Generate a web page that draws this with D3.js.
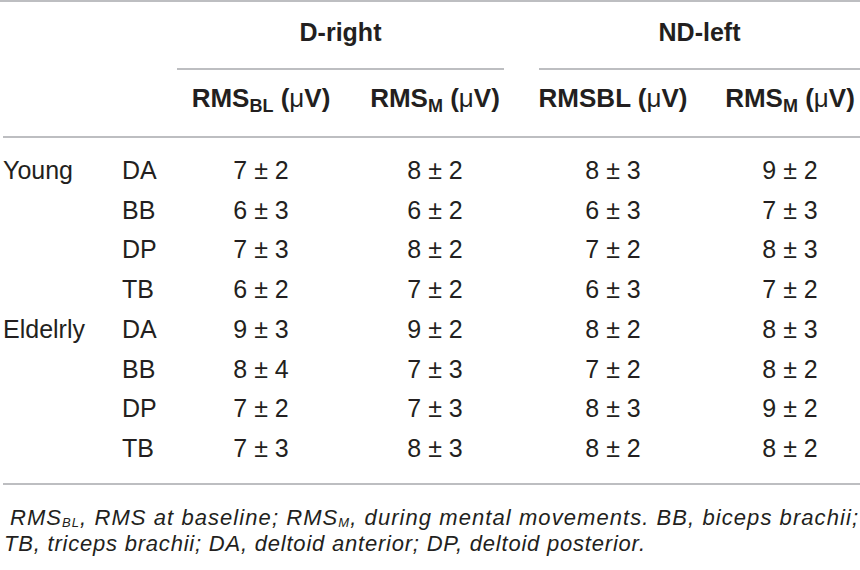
<!DOCTYPE html>
<html lang="en">
<head>
    <meta charset="UTF-8">
    <title>RMS table</title>
    <script src="https://d3js.org/d3.v7.min.js"></script>
    <style type="text/css">
        body {
            margin: 0;
            background-color: #ffffff;
        }

        text {
            font-family: "Liberation Sans", Arial, sans-serif;
            fill: #231f20;
        }

        .rule {
            stroke: #a7a9ac;
            stroke-width: 1.6px;
        }

        .span-title {
            font-size: 25px;
            font-weight: bold;
            text-anchor: middle;
        }

        .col-head {
            font-size: 26px;
            font-weight: bold;
            text-anchor: middle;
        }

        .cell {
            font-size: 25px;
        }

        .note {
            font-size: 22px;
            font-style: italic;
        }
    </style>
</head>
<body>
    <script type="text/javascript">
        //CONSTANTS & GLOBALS
        const width = 860;
        const height = 570;

        //DATA
        const groups = ["Young", "Eldelrly"];
        const muscles = ["DA", "BB", "DP", "TB"];
        const spans = ["D-right", "ND-left"];
        const columns = ["dBL", "dM", "nBL", "nM"];

        // mean and sd per row (Young DA..TB, then Elderly DA..TB)
        const dRightBLMean = [7, 6, 7, 6, 9, 8, 7, 7];
        const dRightBLSd   = [2, 3, 3, 2, 3, 4, 2, 3];
        const dRightMMean  = [8, 6, 8, 7, 9, 7, 7, 8];
        const dRightMSd    = [2, 2, 2, 2, 2, 3, 3, 3];
        const ndLeftBLMean = [8, 6, 7, 6, 8, 7, 8, 8];
        const ndLeftBLSd   = [3, 3, 2, 3, 2, 2, 3, 2];
        const ndLeftMMean  = [9, 7, 8, 7, 8, 8, 9, 8];
        const ndLeftMSd    = [2, 3, 3, 2, 3, 2, 2, 2];

        const footnote1 = [["RMS", ""], ["BL", "sub"], [", RMS at baseline; RMS", ""], ["M", "sub"],
                           [", during mental movements. BB, biceps brachii;", ""]];
        const footnote2 = "TB, triceps brachii; DA, deltoid anterior; DP, deltoid posterior.";

        //BUILD ROWS
        const rows = [];
        groups.forEach((g, gi) => {
            muscles.forEach((m, mi) => {
                const i = gi * muscles.length + mi;
                rows.push({
                    group: mi === 0 ? g : "",
                    muscle: m,
                    dBL: dRightBLMean[i] + " ± " + dRightBLSd[i],
                    dM: dRightMMean[i] + " ± " + dRightMSd[i],
                    nBL: ndLeftBLMean[i] + " ± " + ndLeftBLSd[i],
                    nM: ndLeftMMean[i] + " ± " + ndLeftMSd[i]
                });
            });
        });

        //SCALES
        const xCol = d3.scaleOrdinal()
            .domain(columns)
            .range([261, 435, 613, 790]);

        const xSpan = d3.scaleOrdinal()
            .domain(spans)
            .range([[177, 504], [539, 860]]);

        const yRow = d3.scaleLinear()
            .domain([0, rows.length - 1])
            .range([179, 457]);

        //CREATE SVG
        const svg = d3.select("body")
            .append("svg")
            .attr("width", width)
            .attr("height", height);

        //HORIZONTAL RULES
        [[0, 1], [3, 137], [3, 484]].forEach(r => {
            svg.append("line")
                .attr("class", "rule")
                .attr("x1", r[0]).attr("x2", width)
                .attr("y1", r[1]).attr("y2", r[1]);
        });

        //SPANNING HEADERS
        spans.forEach(s => {
            const ext = xSpan(s);
            svg.append("text")
                .attr("class", "span-title")
                .attr("x", (ext[0] + ext[1]) / 2)
                .attr("y", 41)
                .text(s);
            svg.append("line")
                .attr("class", "rule")
                .attr("x1", ext[0]).attr("x2", ext[1])
                .attr("y1", 69).attr("y2", 69);
        });

        //COLUMN HEADERS
        const heads = {
            dBL: [["RMS", ""], ["BL", "sub"], [" (", ""], ["μ", "mu"], ["V)", ""]],
            dM:  [["RMS", ""], ["M", "sub"], [" (", ""], ["μ", "mu"], ["V)", ""]],
            nBL: [["RMSBL (", ""], ["μ", "mu"], ["V)", ""]],
            nM:  [["RMS", ""], ["M", "sub"], [" (", ""], ["μ", "mu"], ["V)", ""]]
        };

        columns.forEach(c => {
            const t = svg.append("text")
                .attr("class", "col-head")
                .attr("x", xCol(c))
                .attr("y", 107);
            heads[c].forEach((p, i) => {
                const ts = t.append("tspan").text(p[0]);
                if (p[1] === "sub") ts.attr("font-size", "18px").attr("dy", 5);
                else if (i > 0 && heads[c][i - 1][1] === "sub") ts.attr("dy", -5);
                if (p[1] === "mu") ts.attr("font-weight", "normal");
            });
        });

        //BODY ROWS
        const rowG = svg.selectAll(".row")
            .data(rows)
            .join("g")
            .attr("class", "row")
            .attr("transform", (d, i) => "translate(0," + yRow(i) + ")");

        rowG.append("text")
            .attr("class", "cell")
            .attr("x", 3)
            .text(d => d.group);

        rowG.append("text")
            .attr("class", "cell")
            .attr("x", 122)
            .text(d => d.muscle);

        columns.forEach(c => {
            rowG.append("text")
                .attr("class", "cell")
                .attr("x", xCol(c))
                .attr("text-anchor", "middle")
                .text(d => d[c]);
        });

        //FOOTNOTE
        const n1 = svg.append("text")
            .attr("class", "note")
            .attr("x", 10)
            .attr("y", 525)
            .attr("textLength", 848)
            .attr("lengthAdjust", "spacing");
        footnote1.forEach((p, i) => {
            const ts = n1.append("tspan").text(p[0]);
            if (p[1] === "sub") ts.attr("font-size", "13px").attr("dy", 2);
            else if (i > 0 && footnote1[i - 1][1] === "sub") ts.attr("dy", -2);
        });

        svg.append("text")
            .attr("class", "note")
            .attr("x", 4)
            .attr("y", 551)
            .attr("textLength", 641)
            .attr("lengthAdjust", "spacing")
            .text(footnote2);
    </script>
</body>
</html>
